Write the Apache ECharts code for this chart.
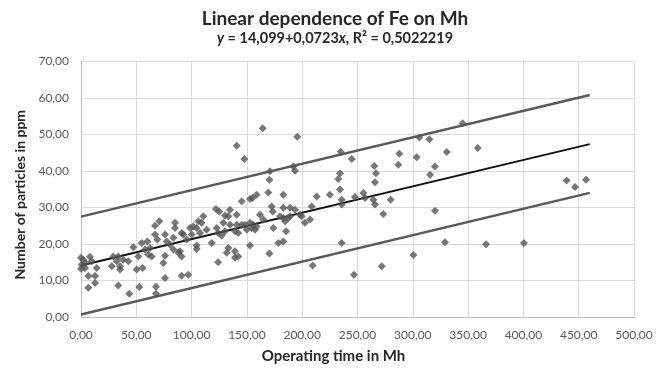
<!DOCTYPE html>
<html><head><meta charset="utf-8">
<script src="https://cdn.jsdelivr.net/npm/echarts@6/dist/echarts.min.js"></script>
<style>html,body{margin:0;padding:0;background:#fff}#c{width:670px;height:369px}</style>
</head><body><div id="c"></div>
<script>
const titleText = 'Linear dependence of Fe on Mh';
const xAxisName = 'Operating time in Mh';
const yAxisName = 'Number of particles in ppm';
const xTicks = [0, 500, 50];
const yTicks = [0, 70, 10];

const points = [
[0,16.2],[2,15.7],[0.6,14.4],[3.6,13.4],[8.1,16.5],[9.7,15.3],[14.2,13.4],[6.6,11.2],[12.7,11.2],[12.7,9.3],[6.6,8],[0,13.2],[4.2,14.8],
[29.2,16.6],[32.3,15.3],[27.8,13.9],[35.3,13.9],[33.7,16.6],[38.2,15.7],[42.8,15.3],[35.3,13],[33.7,8.6],[43.7,6.4],
[47.3,19.1],[50.3,13],[52.7,8.2],[55.8,13.4],[51.8,16.6],[54.9,20.3],[57.9,18.5],[60.9,17.1],[62.4,18.9],[60,20.7],[66.9,22.6],[63.9,16.6],[66.9,25],[70.8,26.2],[67.8,8.3],[67.8,6.4],[69,21.2],
[76,22.6],[77.5,20.7],[76,16.8],[74.4,14.8],[76,10.7],[80.5,19.8],[85,25.8],[85,24.4],[83.5,21.7],[83.5,18.5],[89.5,18],[91,16.6],[88,17.6],[91,23],[92.5,22.6],[95.6,21.2],[98.6,24.4],[100.1,22.6],[101.5,24.8],[104.6,24.4],[106,26.2],[109,25.8],[110.6,27.6],[107.6,23],[113.6,23.9],[104.6,19.6],[104.6,18.6],[91,11.3],[97,11.6],[118.2,20.3],[122,29.6],[125,28.9],[130.2,27.8],[134.7,29.4],[133.2,27.6],[140.8,28],[128.7,25.8],[134.7,25.3],[140.8,25.3],[145.3,25.3],[148.3,25.3],[149.8,23.9],[122.7,24.4],[124,23],[127.2,22.3],[130.2,23.5],[139.2,23.5],[142.2,23],[124,15],[133.2,18.9],[131.7,17.6],[139.2,18],[139.2,16.2],[142.2,16.6],[140.8,46.9],[147.7,43.3],[145.3,31.7],[152.8,32.3],
[164.3,51.7],[195.6,49.4],[170.9,39.9],[170.3,37.6],[192,41.2],[193.5,40.1],[155.2,32.6],[158.8,33.5],[169.3,34.1],[182.9,33.5],[172.4,30.3],[173.3,28.9],[182.9,29.9],[189,29.9],[193.5,29.4],[161.8,28],[164.8,26.7],[179.9,27.6],[182.9,27.1],[184.5,26.2],[187.4,27.1],[189,27.6],[198,28],[199.5,27.6],[152.8,25.8],[155.8,25.3],[158.8,24.8],[154.3,24.4],[157.3,23.9],[173.9,24.4],[185.4,23.5],[182.9,20.7],[178.4,20.3],[202.5,25.8],[207.1,26.7],[208.6,30.3],[213.1,33],[170.3,17.4],[152.8,19.6],[209.5,14.1],[225,33.5],[234.2,34.9],[235.7,30.8],[234.8,45.3],[234.2,39.4],[232.6,37.8],[235.7,20.3],
[305.9,49.2],[315,48.7],[330.7,45.2],[287.8,44.7],[303.5,43.8],[286.9,41.7],[244.8,43.3],[265.2,41.4],[266.7,39.4],[265.8,36.9],[320,41.2],[315.6,39],[235.7,32.1],[247.7,32.9],[255.3,34],[256.8,32.6],[264.3,32.1],[265.8,30.8],[280,32.1],[273.3,28.2],[320,29.1],[329.1,20.5],[300.5,17],[271.9,13.9],[246.8,11.6],
[439.1,37.4],[446.7,35.6],[456.6,37.6],[366.2,19.9],[400.5,20.3],[345.1,53.1],[358.7,46.3]
];
const fitLine = [[0,14.1],[460,47.36]];
const upperLine = [[0,27.5],[460,60.8]];
const lowerLine = [[0,0.7],[460,34.0]];

const fmt = v => v.toFixed(2).replace('.', ',');
const FONT = 'Lato';
const chart = echarts.init(document.getElementById('c'));
chart.setOption({
  animation: false,
  title: {
    text: titleText,
    subtext: '{i|y} = 14,099+0,0723{i|x}, R² = 0,5022219',
    left: 'center', top: 4, itemGap: 3,
    textStyle: {fontFamily: FONT, fontWeight: 'bold', fontSize: 19, color: '#262626'},
    subtextStyle: {fontFamily: FONT, fontWeight: 'bold', fontSize: 14.5, color: '#262626',
      rich: {i: {fontFamily: FONT, fontWeight: 'bold', fontStyle: 'italic', fontSize: 14.5, color: '#262626'}}}
  },
  grid: {left: 81, right: 36, top: 61.5, bottom: 51.5},
  xAxis: {
    type: 'value', min: xTicks[0], max: xTicks[1], interval: xTicks[2],
    name: xAxisName, nameLocation: 'middle', nameGap: 32,
    nameTextStyle: {fontFamily: FONT, fontWeight: 'bold', fontSize: 15, color: '#262626', padding: [0, 48, 0, 0]},
    axisLine: {show: true, lineStyle: {color: '#bfbfbf'}}, axisTick: {show: false},
    axisLabel: {formatter: fmt, fontFamily: FONT, fontSize: 12, color: '#595959', margin: 12},
    splitLine: {show: true, lineStyle: {color: '#d9d9d9', width: 1}}
  },
  yAxis: {
    type: 'value', min: yTicks[0], max: yTicks[1], interval: yTicks[2],
    name: yAxisName, nameLocation: 'middle', nameGap: 53,
    nameTextStyle: {fontFamily: FONT, fontWeight: 'bold', fontSize: 14, color: '#262626', padding: [0, 11, 0, 0]},
    axisLine: {show: true, lineStyle: {color: '#bfbfbf'}}, axisTick: {show: false},
    axisLabel: {formatter: fmt, fontFamily: FONT, fontSize: 12, color: '#595959', margin: 12},
    splitLine: {show: true, lineStyle: {color: '#d9d9d9', width: 1}}
  },
  series: [
    {type: 'scatter', data: points, symbol: 'diamond', symbolSize: 8, itemStyle: {color: '#555555'}, z: 3},
    {type: 'line', data: upperLine, showSymbol: false, lineStyle: {color: '#595959', width: 2.5}, z: 2},
    {type: 'line', data: fitLine, showSymbol: false, lineStyle: {color: '#111111', width: 2}, z: 2},
    {type: 'line', data: lowerLine, showSymbol: false, lineStyle: {color: '#595959', width: 2.5}, z: 2}
  ]
});
</script></body></html>
